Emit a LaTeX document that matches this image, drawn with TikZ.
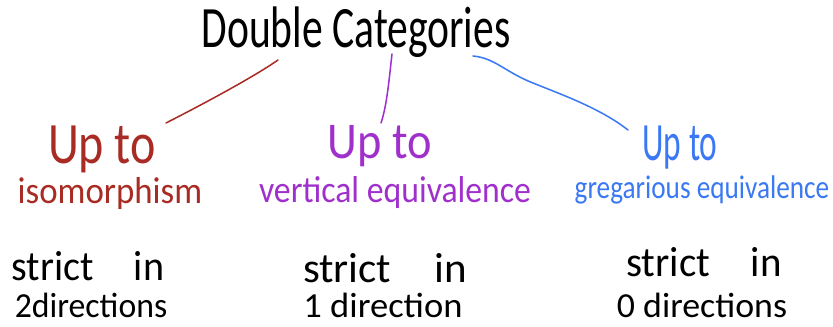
\documentclass[tikz,border=0pt]{standalone}
\usepackage{fontspec}
\usepackage{graphicx}
\setmainfont{Carlito}
\usetikzlibrary{positioning}

\definecolor{isored}{RGB}{168,44,36}
\definecolor{vertpurple}{RGB}{160,48,204}
\definecolor{gregblue}{RGB}{58,120,244}

\newcommand{\squeeze}[2]{\scalebox{#1}[1]{#2}}
\newcommand{\sz}[1]{\fontsize{#1}{#1}\selectfont}

\begin{document}
\begin{tikzpicture}[
    x=0.03cm, y=-0.03cm,
    hand/.style={anchor=base, inner sep=0pt},
    ink/.style={line width=1.3pt, line cap=round, line join=round}
]
    \useasboundingbox (0,0) rectangle (833,326);

    % title
    \node (title) [hand, font=\sz{50pt}] at (356,47) {\squeeze{0.71}{Double Categories}};

    % three ways of weakening
    \node (isoup) [hand, font=\sz{50pt}, text=isored] at (102,163) {\squeeze{0.82}{Up to}};
    \node (iso) [hand, font=\sz{32pt}, text=isored] at (110,203) {\squeeze{0.93}{isomorphism}};
    \node (vertup) [hand, font=\sz{44pt}, text=vertpurple] at (380,158) {\squeeze{0.9}{Up to}};
    \node (vert) [hand, font=\sz{32pt}, text=vertpurple] at (395,202) {\squeeze{0.9}{vertical equivalence}};
    \node (gregup) [hand, font=\sz{46pt}, text=gregblue] at (680,160) {\squeeze{0.62}{Up to}};
    \node (greg) [hand, font=\sz{28pt}, text=gregblue] at (702,198) {\squeeze{0.83}{gregarious equivalence}};

    % strictness
    \node (twoa) [hand, font=\sz{36pt}] at (88,280) {\squeeze{0.95}{strict\quad in}};
    \node (twob) [hand, font=\sz{30pt}] at (91,317) {\squeeze{0.96}{2directions}};
    \node (onea) [hand, font=\sz{36pt}] at (385,282) {\squeeze{1.02}{strict\quad in}};
    \node (oneb) [hand, font=\sz{30pt}] at (383,317) {\squeeze{1.04}{1 direction}};
    \node (zeroa) [hand, font=\sz{36pt}] at (704,276) {\squeeze{0.97}{strict\quad in}};
    \node (zerob) [hand, font=\sz{30pt}] at (702,317) {\squeeze{1.02}{0 directions}};

    % connectors
    \coordinate (isotop) at (278,60);
    \coordinate (isoend) at (166,123);
    \coordinate (verttop) at (392,54);
    \coordinate (vertend) at (381,123);
    \coordinate (gregtop) at (473,56);
    \coordinate (gregend) at (628,130);

    \draw [ink, isored] (isotop) .. controls (258,74) and (215,98) .. (isoend);
    \draw [ink, vertpurple] (verttop) .. controls (389,80) and (387,105) .. (vertend);
    \draw [ink, gregblue] (gregtop) .. controls (495,58) and (505,72) .. (533,83)
        .. controls (560,94) and (600,108) .. (gregend);
\end{tikzpicture}
\end{document}
